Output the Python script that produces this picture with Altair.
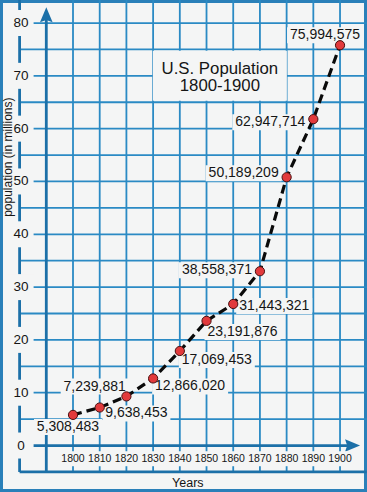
import altair as alt
import pandas as pd

# ---------------- data ----------------
years = [1800, 1810, 1820, 1830, 1840, 1850, 1860, 1870, 1880, 1890, 1900]
# plotted positions (millions)
plotted = [5.8, 7.2, 9.3, 12.7, 17.9, 23.6, 26.8, 33.0, 50.8, 61.8, 75.8]
labels = ["5,308,483", "7,239,881", "9,638,453", "12,866,020", "17,069,453",
          "23,191,876", "31,443,321", "38,558,371", "50,189,209", "62,947,714",
          "75,994,575"]
y_ticks = [0, 10, 20, 30, 40, 50, 60, 70, 80]
x_ticks = years
grid_y = [5, 10, 15, 20, 25, 30, 35, 40, 45, 50, 55, 60, 65, 70, 75, 80]
grid_x = years
title_lines = ["U.S. Population", "1800-1900"]
y_title = "population (in millions)"
x_title = "Years"

# ---------------- layout / style ----------------
label_dx = [-5, -5, 10, 37, 37, 36, 41, -43, -43, -43, -15]
label_dy = [12, -21, 17, 8, 9, 11, 2, -1, -4, 3, -10]

W, H = 367, 492
XS = alt.Scale(domain=[1772.66, 1910.1], nice=False, zero=False)
YS = alt.Scale(domain=[-8.80, 84.36], nice=False, zero=False)
LEFT, RIGHT, BOTTOM, TOP = 1780, 1910, -5, 85
AXIS_X = 1790
ARROW_X, ARROW_Y = 1907.5, 83.0
XLAB_Y = -2.5
YTITLE_X, YTITLE_Y = 1775.7, 54.6
XTITLE_X, XTITLE_Y = 1843, -7.1
TITLE_X, TITLE_Y = 1855, [71.3, 68.0]
TITLE_BOX_Y = 70

BG = "#f4f5f5"
GRID = "#2a8ac4"
AXISC = "#1c70a8"
FRAME = "#2a80b9"
FONT = "Liberation Sans"
TXT = "#151515"


def X(f):
    return alt.X(f, type="quantitative", scale=XS, axis=None)


def Y(f):
    return alt.Y(f, type="quantitative", scale=YS, axis=None)


def box_shape(w, h):
    r = h / w
    return f"M-1,{-r:.4f}H1V{r:.4f}H-1Z", w * w


layers = []

# grid
hgrid = pd.DataFrame({"y": grid_y, "x0": LEFT, "x1": RIGHT})
layers.append(alt.Chart(hgrid).mark_rule(color=GRID, strokeWidth=1.8)
              .encode(x=X("x0"), x2="x1", y=Y("y")))
vgrid = pd.DataFrame({"x": grid_x, "y0": BOTTOM, "y1": TOP})
layers.append(alt.Chart(vgrid).mark_rule(color=GRID, strokeWidth=1.8)
              .encode(x=X("x"), y=Y("y0"), y2="y1"))

# heavy lines: left border line, y axis, bottom line, x axis
vlines = pd.DataFrame({"x": [LEFT, AXIS_X], "y0": [BOTTOM, BOTTOM], "y1": [TOP, ARROW_Y - 1]})
layers.append(alt.Chart(vlines).mark_rule(color=AXISC, strokeWidth=2.8)
              .encode(x=X("x"), y=Y("y0"), y2="y1"))
hlines = pd.DataFrame({"y": [BOTTOM, 0], "x0": [LEFT, LEFT], "x1": [RIGHT, ARROW_X - 2]})
layers.append(alt.Chart(hlines).mark_rule(color=AXISC, strokeWidth=2.8)
              .encode(x=X("x0"), x2="x1", y=Y("y")))

# arrowheads
up = pd.DataFrame({"x": [AXIS_X], "y": [ARROW_Y]})
layers.append(alt.Chart(up).mark_point(shape="M0,0L0.42,1L0,0.86L-0.42,1Z", size=900,
                                       filled=True, color=AXISC, opacity=1, strokeWidth=0)
              .encode(x=X("x"), y=Y("y")))
right = pd.DataFrame({"x": [ARROW_X], "y": [0]})
layers.append(alt.Chart(right).mark_point(shape="M0,0L-1,-0.42L-0.86,0L-1,0.42Z", size=900,
                                          filled=True, color=AXISC, opacity=1, strokeWidth=0)
              .encode(x=X("x"), y=Y("y")))

# y tick labels with background boxes
ytl = pd.DataFrame({"x": LEFT, "y": y_ticks, "t": [str(v) for v in y_ticks]})
shp, sz = box_shape(25, 26)
layers.append(alt.Chart(ytl).mark_point(shape=shp, size=sz, filled=True, color=BG,
                                        opacity=1, strokeWidth=0, xOffset=1.5)
              .encode(x=X("x"), y=Y("y")))
layers.append(alt.Chart(ytl).mark_text(font=FONT, fontSize=13.5, color=TXT, align="center",
                                       baseline="middle", dx=1.5)
              .encode(x=X("x"), y=Y("y"), text="t:N"))

# x tick labels with background boxes
xtl = pd.DataFrame({"x": x_ticks, "y": XLAB_Y, "t": [str(v) for v in x_ticks]})
shp, sz = box_shape(25, 15)
layers.append(alt.Chart(xtl).mark_point(shape=shp, size=sz, filled=True, color=BG,
                                        opacity=1, strokeWidth=0)
              .encode(x=X("x"), y=Y("y")))
layers.append(alt.Chart(xtl).mark_text(font=FONT, fontSize=10.5, color=TXT, align="center",
                                       baseline="middle")
              .encode(x=X("x"), y=Y("y"), text="t:N"))

# axis titles
yt = pd.DataFrame({"x": [YTITLE_X], "y": [YTITLE_Y], "t": [y_title]})
layers.append(alt.Chart(yt).mark_text(font=FONT, fontSize=12, color=TXT, angle=270,
                                      align="center", baseline="middle")
              .encode(x=X("x"), y=Y("y"), text="t:N"))
xt = pd.DataFrame({"x": [XTITLE_X], "y": [XTITLE_Y], "t": [x_title]})
layers.append(alt.Chart(xt).mark_text(font=FONT, fontSize=12.5, color=TXT,
                                      align="center", baseline="middle")
              .encode(x=X("x"), y=Y("y"), text="t:N"))

# chart title with box
tb = pd.DataFrame({"x": [TITLE_X], "y": [TITLE_BOX_Y]})
shp, sz = box_shape(134, 50)
layers.append(alt.Chart(tb).mark_point(shape=shp, size=sz, filled=True, color=BG,
                                       opacity=1, strokeWidth=0)
              .encode(x=X("x"), y=Y("y")))
tt = pd.DataFrame({"x": TITLE_X, "y": TITLE_Y, "t": title_lines})
layers.append(alt.Chart(tt).mark_text(font=FONT, fontSize=16.8, color=TXT,
                                      align="center", baseline="middle")
              .encode(x=X("x"), y=Y("y"), text="t:N"))

# data label boxes
df = pd.DataFrame({"year": years, "value": plotted, "label": labels})
for i in range(len(years)):
    w = 68 if len(labels[i]) <= 9 else 76
    shp, sz = box_shape(w, 16)
    layers.append(alt.Chart(df.iloc[[i]]).mark_point(
        shape=shp, size=sz, filled=True, color=BG, opacity=1, strokeWidth=0,
        xOffset=label_dx[i], yOffset=label_dy[i])
        .encode(x=X("year"), y=Y("value")))

# data line and points
layers.append(alt.Chart(df).mark_line(color="#0a0a0a", strokeWidth=3.2, strokeDash=[9, 5])
              .encode(x=X("year"), y=Y("value")))
layers.append(alt.Chart(df).mark_circle(size=85, color="#e23a3c", stroke="#4a1010",
                                        strokeWidth=1, opacity=1)
              .encode(x=X("year"), y=Y("value")))

# data labels
for i in range(len(years)):
    layers.append(alt.Chart(df.iloc[[i]]).mark_text(
        font=FONT, fontSize=14, color=TXT, align="center", baseline="middle",
        dx=label_dx[i], dy=label_dy[i])
        .encode(x=X("year"), y=Y("value"), text="label:N"))

chart = (alt.layer(*layers)
         .properties(width=W, height=H, padding=0, autosize="none", background=BG)
         .configure_view(stroke=FRAME, strokeWidth=6, fill=BG))

chart.save("out.html", embed_options={"renderer": "svg", "actions": False})
